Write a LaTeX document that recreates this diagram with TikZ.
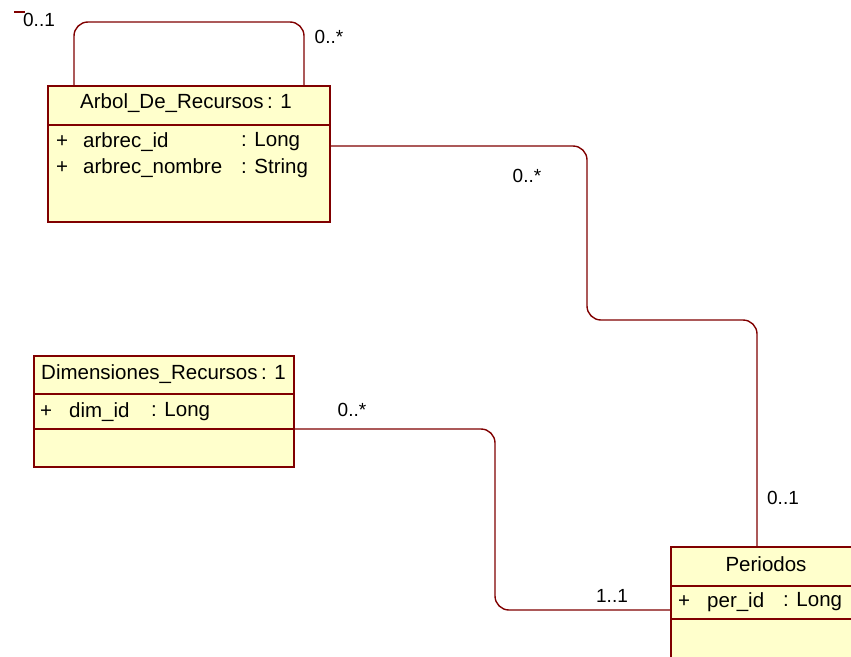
\documentclass[tikz,border=0pt]{standalone}
\usepackage{fontspec}
\setmainfont{Liberation Sans}
\definecolor{umlred}{RGB}{128,0,0}
\definecolor{umlfill}{RGB}{255,255,204}
\begin{document}
\begin{tikzpicture}[x=1pt,y=-1pt,
  classbox/.style={draw=umlred,fill=umlfill,line width=1.6pt,anchor=north west,inner sep=0pt},
  sep/.style={draw=umlred,line width=1.6pt},
  conn/.style={draw=umlred,line width=1.4pt,rounded corners=14pt},
  txt/.style={inner sep=0pt,anchor=west,font=\fontsize{20.5}{22}\selectfont},
  ctxt/.style={inner sep=0pt,font=\fontsize{20.5}{22}\selectfont},
  mult/.style={inner sep=0pt,font=\fontsize{19}{21}\selectfont}]
\useasboundingbox (0,0) rectangle (851,656);
\clip (0,0) rectangle (851,656);
% Arbol_De_Recursos
\node[classbox,minimum width=282pt,minimum height=136pt] (arbol) at (47,85) {};
\draw[sep] (47,125) -- (330,125);
\node[ctxt] (arbolt) at (186,103) {Arbol\_De\_Recursos\,: 1};
\node[txt] (a1p) at (56,142) {+};
\node[txt] (a1n) at (83,142) {arbrec\_id};
\node[txt] (a1t) at (241,142) {: Long};
\node[txt] (a2p) at (56,168) {+};
\node[txt] (a2n) at (83,168) {arbrec\_nombre};
\node[txt] (a2t) at (241,168) {: String};
% Dimensiones_Recursos
\node[classbox,minimum width=260pt,minimum height=111pt] (dim) at (33,355) {};
\draw[sep] (33,394) -- (294,394);
\draw[sep] (33,429) -- (294,429);
\node[txt] (dimt) at (41,374) {Dimensiones\_Recursos\,: 1};
\node[txt] (d1p) at (40,412) {+};
\node[txt] (d1n) at (69,412) {dim\_id};
\node[txt] (d1t) at (151,412) {: Long};
% Periodos
\node[classbox,minimum width=192pt,minimum height=130pt] (per) at (670,546) {};
\draw[sep] (670,586) -- (862,586);
\draw[sep] (670,619) -- (862,619);
\node[ctxt] (pert) at (766,564) {Periodos};
\node[txt] (p1p) at (678,602) {+};
\node[txt] (p1n) at (707,602) {per\_id};
\node[txt] (p1t) at (783,602) {: Long};
% connectors
\draw[conn] ([xshift=27pt]arbol.north west) -- (74,22) -- (304,22) -- ([xshift=257pt]arbol.north west);
\draw[umlred,line width=1.4pt] (14,12) -- (25,12);
\draw[conn] ([yshift=-61pt]arbol.north east) -- (587,146) -- (587,320) -- (757,320) -- ([xshift=87pt]per.north west);
\draw[conn] ([yshift=-74pt]dim.north east) -- (495,429) -- (495,610) -- ([yshift=-64pt]per.north west);
% multiplicities
\node[mult] (m1) at (39,20) {0..1};
\node[mult] (m2) at (329,37) {0..*};
\node[mult] (m3) at (527,176) {0..*};
\node[mult] (m4) at (783,498) {0..1};
\node[mult] (m5) at (352,410) {0..*};
\node[mult] (m6) at (612,596) {1..1};
\end{tikzpicture}
\end{document}
